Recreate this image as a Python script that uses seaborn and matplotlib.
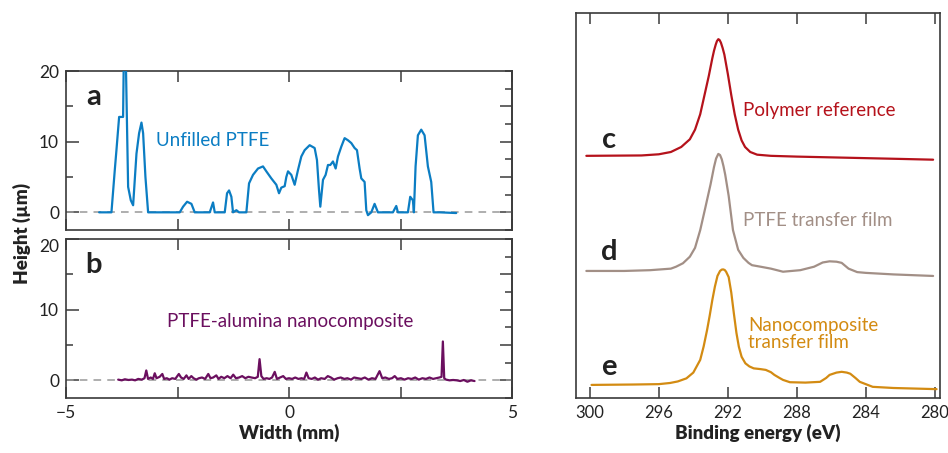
import numpy as np
import seaborn as sns
import matplotlib.pyplot as plt
from matplotlib.ticker import MultipleLocator

# ---- surface profiles (panels a, b): width in mm, height in um ----
width_a = [-4.257, -3.981, -3.906, -3.869, -3.809, -3.720, -3.704, -3.660, -3.607, -3.547,
           -3.495, -3.420, -3.361, -3.308, -3.271, -3.219, -3.159, -2.450, -2.375, -2.285,
           -2.188, -2.114, -1.777, -1.703, -1.665, -1.441, -1.389, -1.344, -1.292, -1.255,
           -1.180, -1.120, -0.956, -0.896, -0.807, -0.695, -0.583, -0.508, -0.396, -0.284,
           -0.224, -0.172, -0.097, -0.060, -0.022, 0.052, 0.127, 0.202, 0.276, 0.351,
           0.463, 0.575, 0.627, 0.672, 0.702, 0.762, 0.821, 0.874, 0.926, 0.986,
           1.046, 1.098, 1.173, 1.247, 1.322, 1.397, 1.471, 1.524, 1.583, 1.621,
           1.695, 1.733, 1.770, 1.845, 1.919, 1.994, 2.330, 2.405, 2.442, 2.666,
           2.718, 2.778, 2.800, 2.838, 2.890, 2.965, 3.040, 3.114, 3.189, 3.241,
           3.376, 3.749]
height_a = [0.0, 0.0, 6.0, 8.8, 13.5, 13.5, 22.0, 22.0, 3.6, 1.7,
            1.0, 8.3, 11.2, 12.7, 11.2, 5.0, 0.0, 0.0, 0.8, 1.5,
            1.2, 0.0, 0.0, 1.4, 0.0, 0.0, 2.7, 3.1, 2.2, 0.0,
            0.3, 0.0, 0.0, 4.1, 5.3, 6.2, 6.5, 5.8, 4.8, 3.9,
            2.7, 3.5, 3.7, 5.0, 5.8, 5.3, 3.9, 6.0, 7.9, 8.8,
            9.5, 9.1, 7.4, 3.2, 0.8, 4.6, 5.3, 6.7, 6.7, 7.2,
            6.2, 7.9, 9.3, 10.5, 10.2, 9.8, 9.1, 8.8, 6.2, 4.8,
            4.3, 0.3, -0.4, 0.0, 1.2, 0.0, 0.0, 0.9, 0.0, 0.0,
            2.2, 1.7, 0.0, 6.5, 10.9, 11.7, 10.9, 6.5, 4.3, 0.0,
            0.0, -0.1]

width_b = [-3.83, -3.75, -3.68, -3.60, -3.52, -3.45, -3.38, -3.30, -3.24, -3.20,
           -3.16, -3.10, -3.05, -3.01, -2.97, -2.90, -2.84, -2.80, -2.74, -2.68,
           -2.62, -2.55, -2.47, -2.42, -2.36, -2.30, -2.25, -2.19, -2.14, -2.08,
           -2.02, -1.95, -1.88, -1.81, -1.76, -1.70, -1.63, -1.58, -1.52, -1.45,
           -1.38, -1.31, -1.25, -1.19, -1.12, -1.05, -0.98, -0.91, -0.84, -0.76,
           -0.70, -0.66, -0.62, -0.57, -0.50, -0.44, -0.38, -0.32, -0.27, -0.20,
           -0.13, -0.07, 0.00, 0.07, 0.14, 0.21, 0.28, 0.34, 0.39, 0.44,
           0.51, 0.58, 0.65, 0.72, 0.80, 0.87, 0.94, 1.01, 1.09, 1.16,
           1.24, 1.31, 1.39, 1.46, 1.54, 1.62, 1.70, 1.78, 1.86, 1.94,
           2.03, 2.09, 2.16, 2.24, 2.31, 2.37, 2.43, 2.51, 2.59, 2.67,
           2.75, 2.83, 2.91, 2.99, 3.07, 3.15, 3.23, 3.30, 3.37, 3.42,
           3.45, 3.48, 3.52, 3.60, 3.68, 3.76, 3.84, 3.92, 4.00, 4.08,
           4.16]
height_b = [0.1, 0.0, 0.15, 0.05, 0.1, 0.0, 0.2, 0.1, 0.3, 1.4,
            0.2, 0.4, 0.2, 1.0, 0.3, 0.5, 0.9, 0.2, 0.3, 0.1,
            0.3, 0.2, 0.9, 0.4, 0.2, 0.7, 0.2, 0.6, 0.3, 0.1,
            0.3, 0.4, 0.2, 0.9, 0.3, 0.4, 0.7, 0.2, 0.5, 0.3,
            0.6, 0.3, 0.8, 0.3, 0.4, 0.6, 0.3, 0.5, 0.4, 0.3,
            0.5, 3.0, 0.6, 0.2, 0.3, 0.2, 0.4, 1.2, 0.2, 0.4,
            0.6, 0.2, 0.3, 0.2, 0.4, 0.2, 0.3, 0.2, 1.1, 0.3,
            0.2, 0.4, 0.1, 0.3, 0.2, 0.6, 0.4, 0.1, 0.3, 0.4,
            0.2, 0.3, 0.1, 0.4, 0.3, 0.2, 0.4, 0.1, 0.3, 0.2,
            1.3, 0.3, 0.4, 0.2, 0.3, 0.6, 0.2, 0.3, 0.1, 0.3,
            0.2, 0.4, 0.1, 0.3, 0.2, 0.4, 0.2, 0.3, 0.4, 0.5,
            5.5, 0.3, 0.1, 0.0, 0.05, 0.0, -0.1, 0.05, -0.2, 0.0,
            -0.1]

# ---- XPS C1s spectra (panels c, d, e): binding energy in eV, intensity (a.u.) ----
energy_c = [300.2, 297.0, 296.0, 295.3, 294.7, 294.2, 293.9, 293.6, 293.4, 293.1,
            292.9, 292.8, 292.7, 292.63, 292.55, 292.48, 292.4, 292.3, 292.2, 292.0,
            291.8, 291.6, 291.4, 291.2, 291.0, 290.7, 290.3, 289.5, 288.0, 285.0,
            282.0, 280.1]
signal_c = [0.0, 0.1, 0.4, 1.0, 2.3, 4.3, 6.8, 10.8, 14.8, 20.8,
            25.3, 27.3, 28.9, 29.8, 30.3, 30.1, 29.4, 28.0, 26.3, 21.3,
            15.8, 10.8, 6.8, 4.0, 2.3, 1.0, 0.3, 0.0, -0.2, -0.5,
            -0.8, -1.0]

energy_d = [300.2, 298.0, 296.5, 295.3, 295.0, 294.6, 294.2, 293.9, 293.6, 293.3,
            293.0, 292.8, 292.68, 292.55, 292.45, 292.35, 292.25, 292.15, 291.95, 291.7,
            291.4, 291.1, 290.8, 290.6, 290.1, 289.5, 288.8, 287.8, 287.0, 286.5,
            286.1, 285.7, 285.4, 285.0, 284.5, 284.0, 282.4, 280.1]
signal_d = [0.0, 0.0, 0.2, 0.6, 1.1, 2.0, 3.7, 6.0, 10.6, 16.5,
            22.5, 27.0, 29.2, 30.4, 30.1, 29.0, 27.2, 25.0, 19.5, 10.6,
            5.5, 3.4, 2.1, 1.5, 1.1, 0.6, -0.2, 0.2, 1.1, 2.2,
            2.5, 2.4, 2.1, 0.6, -0.3, -0.5, -0.9, -1.3]

energy_e = [299.9, 297.5, 296.0, 295.35, 294.9, 294.4, 294.0, 293.6, 293.4, 293.2,
            293.05, 292.9, 292.75, 292.6, 292.45, 292.35, 292.27, 292.18, 292.1, 291.95,
            291.8, 291.65, 291.5, 291.36, 291.2, 290.98, 290.75, 290.5, 290.1, 289.8,
            289.5, 289.3, 289.0, 288.8, 288.4, 287.5, 286.65, 286.3, 286.1, 285.7,
            285.4, 285.1, 284.9, 284.6, 284.35, 283.6, 282.4, 279.9]
signal_e = [0.0, 0.1, 0.2, 0.5, 0.9, 1.7, 3.2, 6.5, 10.0, 14.3,
            18.0, 22.0, 25.5, 28.3, 29.6, 29.95, 30.0, 29.85, 29.4, 28.0,
            24.0, 18.6, 13.5, 9.9, 7.3, 5.6, 4.8, 4.3, 4.1, 3.9,
            3.3, 2.6, 1.8, 1.3, 0.7, 0.6, 0.8, 1.8, 2.6, 3.2,
            3.4, 3.2, 2.9, 1.8, 0.8, -0.5, -0.8, -1.1]

spectra = [
    ("c", energy_c, signal_c, "#b5121b", "Polymer reference"),
    ("d", energy_d, signal_d, "#a28f86", "PTFE transfer film"),
    ("e", energy_e, signal_e, "#d38b12", "Nanocomposite\ntransfer film"),
]

sns.set_theme(style="white")
plt.rcParams["font.family"] = ["Lato", "DejaVu Sans"]
plt.rcParams["axes.edgecolor"] = "#3a3a3a"
plt.rcParams["axes.linewidth"] = 1.2
plt.rcParams["xtick.color"] = "#3a3a3a"
plt.rcParams["ytick.color"] = "#3a3a3a"
plt.rcParams["xtick.labelcolor"] = "#222222"
plt.rcParams["ytick.labelcolor"] = "#222222"

W, H = 948, 453
fig = plt.figure(figsize=(W / 100, H / 100), dpi=100)


def box(l, t, r, b):
    return [l / W, 1 - b / H, (r - l) / W, (b - t) / H]


ax_a = fig.add_axes(box(66, 71, 512, 230))
ax_b = fig.add_axes(box(66, 239, 512, 398))
ax_r = fig.add_axes(box(576, 13, 940, 398))

profiles = [
    (ax_a, width_a, height_a, "#0b7dc3", "a", "Unfilled PTFE", (-2.98, 10.2)),
    (ax_b, width_b, height_b, "#6b0f5f", "b", "PTFE-alumina nanocomposite", (-2.74, 8.35)),
]

for ax, xs, ys, col, letter, label, pos in profiles:
    ax.axhline(0, color="#999999", lw=1.1, ls=(0, (5, 4)), zorder=1)
    sns.lineplot(x=xs, y=ys, ax=ax, color=col, lw=1.6, estimator=None, sort=False, zorder=3)
    ax.set_xlim(-5, 5)
    ax.set_ylim(-2.5, 20)
    ax.set_xticks([-5, -2.5, 0, 2.5, 5])
    ax.set_yticks([0, 10, 20])
    ax.yaxis.set_minor_locator(MultipleLocator(5))
    ax.tick_params(axis="x", which="major", direction="in", length=8, width=1.1,
                   top=True, bottom=True, labelsize=12.5, pad=5)
    ax.tick_params(axis="y", which="major", direction="in", length=9, width=1.1,
                   left=True, right=False, labelsize=12.5, pad=5)
    ax.tick_params(axis="y", which="minor", direction="in", length=5, width=1.1,
                   left=True, right=False)
    sec = ax.secondary_yaxis("right")
    sec.set_yticks([0, 5, 10, 15])
    sec.yaxis.set_minor_locator(MultipleLocator(2.5))
    sec.tick_params(axis="y", which="major", direction="in", length=9, width=1.1, labelright=False)
    sec.tick_params(axis="y", which="minor", direction="in", length=5, width=1.1)
    ax.set_xlabel("")
    ax.set_ylabel("")
    ax.text(-4.39, 16.3, letter, fontsize=21, fontweight="bold", color="#222222",
            ha="center", va="center")
    ax.text(pos[0], pos[1], label, fontsize=13.5, color=col, ha="left", va="center")

ax_a.set_xticklabels([])
ax_b.set_xticklabels(["\u22125", "", "0", "", "5"])
ax_b.get_yticklabels()[-1].set_va("top")

for letter, xs, ys, col, label in spectra:
    offset = {"c": 62.9, "d": 33.0, "e": 3.4}[letter]
    sns.lineplot(x=xs, y=np.array(ys) + offset, ax=ax_r, color=col, lw=1.6,
                 estimator=None, sort=False)
    ly = {"c": 67.0, "d": 37.9, "e": 8.0}[letter]
    ax_r.text(298.9, ly, letter, fontsize=21, fontweight="bold", color="#222222",
              ha="center", va="center")
    ty = {"c": 74.8, "d": 46.2, "e": 16.6}[letter]
    tx = 291.13 if letter != "e" else 290.84
    ax_r.text(tx, ty, label, fontsize=13.5, color=col, ha="left", va="center",
              linespacing=1.05)

ax_r.set_xlim(300.8, 279.7)
ax_r.set_ylim(0, 100)
ax_r.set_xticks([300, 296, 292, 288, 284, 280])
ax_r.set_yticks([])
ax_r.tick_params(axis="x", direction="in", length=8, width=1.1, top=True, bottom=True,
                 labelsize=12, pad=5)
ax_r.set_xlabel("")
ax_r.set_ylabel("")

fig.text(22 / W, 1 - 234 / H, "Height (\u00b5m)", rotation=90, fontsize=13.5,
         fontweight="heavy", ha="center", va="center", color="#222222")
fig.text(289 / W, 1 - 433 / H, "Width (mm)", fontsize=13.5, fontweight="heavy",
         ha="center", va="center", color="#222222")
fig.text(758 / W, 1 - 433 / H, "Binding energy (eV)", fontsize=13.5, fontweight="heavy",
         ha="center", va="center", color="#222222")

fig.savefig("out.png", dpi=100)
